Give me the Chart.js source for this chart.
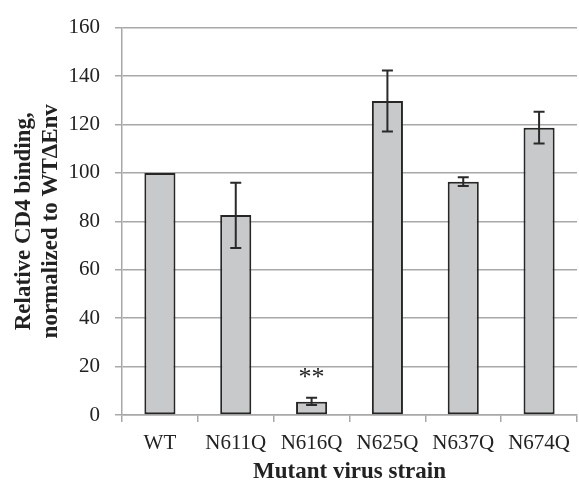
<!DOCTYPE html>
<html>
<head>
<meta charset="utf-8">
<script src="https://cdn.jsdelivr.net/npm/chart.js@4"></script>
<style>
html,body{margin:0;padding:0;background:#fff;}
#wrap{width:579px;height:484px;position:relative;}
</style>
</head>
<body>
<div id="wrap"><canvas id="c" width="579" height="484"></canvas></div>
<script>
const categories = ['WT', 'N611Q', 'N616Q', 'N625Q', 'N637Q', 'N674Q'];
const values = [100, 82.6, 5.5, 129.7, 96.3, 118.6];
const errLow = [100, 69.0, 4.1, 117.1, 94.6, 112.1];
const errHigh = [100, 95.9, 7.1, 142.3, 98.2, 125.2];
const marks = ['', '', '**', '', '', ''];
const yTicks = [0, 20, 40, 60, 80, 100, 120, 140, 160];

const GRID = '#a8a8a8';
const SERIF = '"Liberation Serif", "Times New Roman", serif';

const errorBars = {
  id: 'errorBars',
  afterDatasetsDraw(chart) {
    const ctx = chart.ctx;
    const meta = chart.getDatasetMeta(0);
    const ys = chart.scales.y;
    ctx.save();
    ctx.strokeStyle = '#2a2a2a';
    ctx.lineWidth = 2;
    meta.data.forEach((bar, i) => {
      if (errHigh[i] === errLow[i]) return;
      const x = bar.x;
      const yh = ys.getPixelForValue(errHigh[i]);
      const yl = ys.getPixelForValue(errLow[i]);
      ctx.beginPath();
      ctx.moveTo(x, yh); ctx.lineTo(x, yl);
      ctx.moveTo(x - 5.5, yh); ctx.lineTo(x + 5.5, yh);
      ctx.moveTo(x - 5.5, yl); ctx.lineTo(x + 5.5, yl);
      ctx.stroke();
    });
    ctx.fillStyle = '#222';
    ctx.font = '26px ' + SERIF;
    ctx.textAlign = 'center';
    ctx.textBaseline = 'middle';
    meta.data.forEach((bar, i) => {
      if (!marks[i]) return;
      const yh = ys.getPixelForValue(errHigh[i]);
      ctx.fillText(marks[i], bar.x, yh - 20);
    });
    ctx.restore();
  }
};

new Chart(document.getElementById('c'), {
  type: 'bar',
  data: {
    labels: categories,
    datasets: [{
      data: values,
      backgroundColor: '#c8c9cb',
      borderColor: '#262626',
      borderWidth: 2,
      borderSkipped: false,
      barPercentage: 0.41,
      categoryPercentage: 1.0
    }]
  },
  options: {
    responsive: false,
    animation: false,
    devicePixelRatio: 1,
    layout: { padding: { top: 23, right: 0, left: 0, bottom: 0 } },
    plugins: { legend: { display: false }, tooltip: { enabled: false } },
    scales: {
      x: {
        afterFit: s => { s.height = 69; },
        grid: { display: true, drawOnChartArea: false, drawTicks: true, tickLength: 7, color: GRID, lineWidth: 1.5, offset: true },
        border: { display: true, color: GRID, width: 1.5 },
        ticks: { color: '#222', font: { family: SERIF, size: 21 }, padding: 9, maxRotation: 0, autoSkip: false },
        title: { display: true, text: 'Mutant virus strain', color: '#222', font: { family: SERIF, size: 23, weight: 'bold', lineHeight: 1.0 }, padding: { top: 0, bottom: 0.5 } }
      },
      y: {
        min: 0, max: 160,
        afterFit: s => { s.width = 122; },
        afterBuildTicks: s => { s.ticks = yTicks.map(v => ({ value: v })); },
        grid: { color: GRID, lineWidth: 1.5, tickLength: 7, drawTicks: true },
        border: { display: true, color: GRID, width: 1.5 },
        ticks: { color: '#222', font: { family: SERIF, size: 21 }, padding: 15 },
        title: { display: true, text: ['Relative CD4 binding,', 'normalized to WT\u0394Env'], color: '#222', font: { family: SERIF, size: 23, weight: 'bold', lineHeight: 1.2 }, padding: { top: 10, bottom: 0 } }
      }
    }
  },
  plugins: [errorBars]
});
</script>
</body>
</html>
